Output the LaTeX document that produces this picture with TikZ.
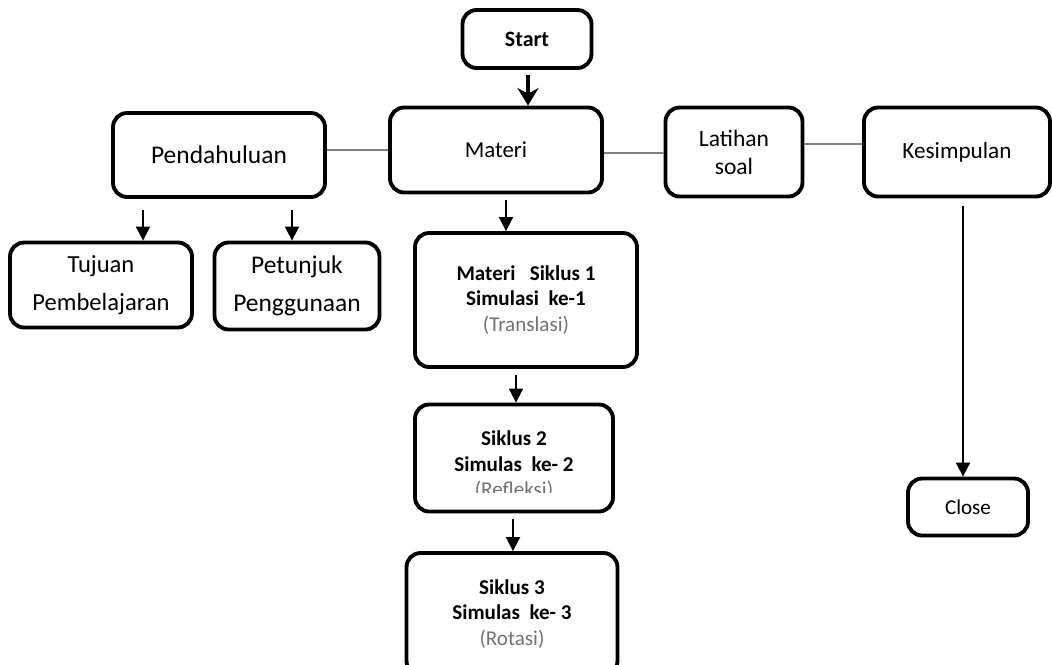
\documentclass[tikz,border=0pt]{standalone}
\usepackage{fontspec}
\setmainfont{Carlito}
\usetikzlibrary{arrows.meta,calc}
\definecolor{LinkClr}{rgb}{0.5,0.5,0.5}
\definecolor{NoteClr}{rgb}{0.45,0.45,0.45}

\begin{document}
\begin{tikzpicture}[x=0.02cm,y=-0.02cm,
  box/.style={draw=black,line width=2.2pt,rounded corners=8pt,fill=white,align=center,inner sep=0pt},
  link/.style={draw=LinkClr,line width=1pt},
  arr/.style={draw=black,line width=1.1pt,-{Triangle[length=8pt,width=8pt]}},
  bigarr/.style={draw=black,line width=2.4pt,-{Stealth[length=10pt,width=12pt]}}]
\useasboundingbox (0,0) rectangle (1052,664);

\node[box,minimum width=2.58cm,minimum height=1.16cm,font=\bfseries\fontsize{12.5}{15}\selectfont] (start) at (527,39) {Start};

\node[box,minimum width=4.24cm,minimum height=1.70cm,font=\fontsize{13}{16}\selectfont] (mat) at (496,150) {Materi};
\node[box,minimum width=4.24cm,minimum height=1.68cm,font=\fontsize{14.5}{17}\selectfont] (pend) at (219,155) {Pendahuluan};
\node[box,minimum width=2.74cm,minimum height=1.78cm,font=\fontsize{13.4}{16}\selectfont] (lat) at (734,152) {Latihan\\soal};
\node[box,minimum width=3.72cm,minimum height=1.78cm,font=\fontsize{13.2}{16}\selectfont] (kes) at (957,152) {Kesimpulan};

\node[box,minimum width=3.64cm,minimum height=1.70cm,font=\fontsize{14}{21.5}\selectfont] (tuj) at (101,285) {Tujuan\\Pembelajaran};
\node[box,minimum width=3.30cm,minimum height=1.74cm,font=\fontsize{14.5}{21.5}\selectfont] (pet) at (297,286) {Petunjuk\\Penggunaan};

\node[box,minimum width=4.44cm,minimum height=2.68cm,font=\fontsize{12}{14.7}\selectfont] (sik1) at (526,300)
  {\textbf{Materi\ \ \ Siklus 1}\\\textbf{Simulasi\ \ ke-1}\\\textcolor{NoteClr}{(Translasi)}};
\node[box,minimum width=3.96cm,minimum height=2.14cm] (sik2) at (514,458) {};
\node[align=center,inner sep=0pt,font=\bfseries\fontsize{12}{14.7}\selectfont] (sik2txt) at (514,451) {Siklus 2\\Simulas\ \ ke- 2};
\begin{scope}
\clip (430,470) rectangle (600,492);
\node[inner sep=0pt,text=NoteClr,font=\fontsize{12}{14.7}\selectfont] (sik2note) at (514,490) {(Refleksi)};
\end{scope}
\node[box,minimum width=4.22cm,minimum height=2.44cm,font=\fontsize{12}{14.7}\selectfont] (sik3) at (512,614)
  {\textbf{Siklus 3}\\\textbf{Simulas\ \ ke- 3}\\\textcolor{NoteClr}{(Rotasi)}};

\node[box,minimum width=2.40cm,minimum height=1.14cm,font=\fontsize{12}{15}\selectfont] (close) at (968,507) {Close};

\draw[bigarr] ($(start.south)+(1,5)$) -- ($(mat.north)+(32,0)$);

\draw[link] ($(pend.east)+(0,-5)$) -- (mat.west);
\draw[link] ($(mat.east)+(0,3)$) -- ($(lat.west)+(0,1)$);
\draw[link] ($(lat.east)+(0,-8)$) -- ($(kes.west)+(0,-8)$);

\draw[arr] ($(pend.south)+(-76,11)$) -- ($(tuj.north)+(42,0)$);
\draw[arr] ($(pend.south)+(73,11)$) -- ($(pet.north)+(-5,0)$);

\draw[arr] ($(mat.south)+(10,6)$) -- ($(sik1.north)+(-20,0)$);
\draw[arr] ($(sik1.south)+(-10,6)$) -- ($(sik2.north)+(2,0)$);
\draw[arr] ($(sik2.south)+(-1,6)$) -- ($(sik3.north)+(1,0)$);

\draw[arr] ($(kes.south)+(6,8)$) -- ($(close.north)+(-5,0)$);

\end{tikzpicture}
\end{document}
